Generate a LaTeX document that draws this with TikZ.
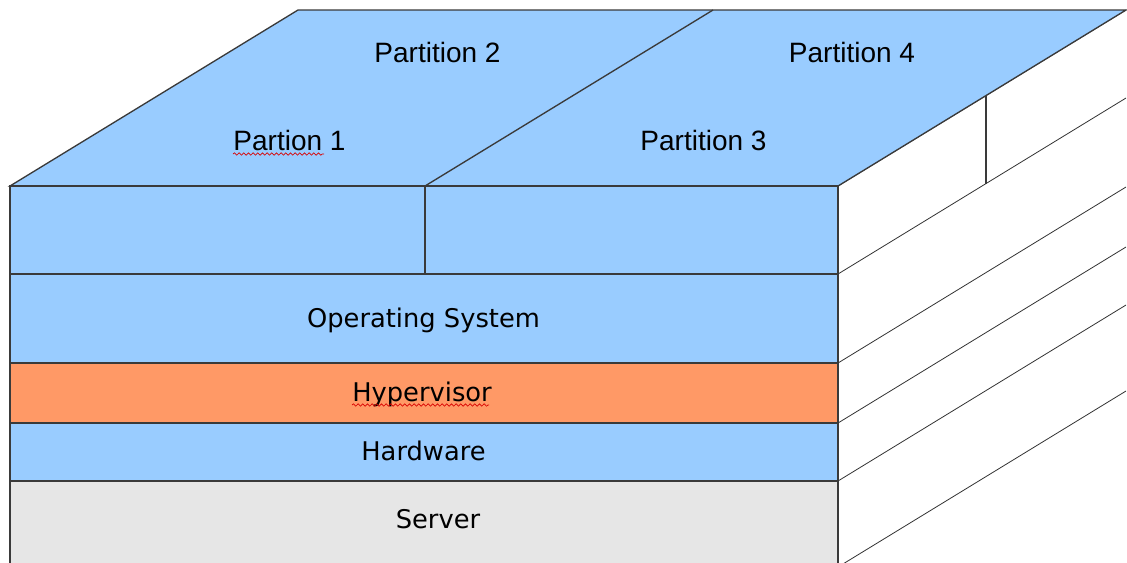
\documentclass[tikz,border=0pt]{standalone}
\usepackage{fontspec}
\setmainfont{DejaVu Sans}
\newfontfamily\partfont{Liberation Sans}
\usetikzlibrary{decorations.pathmorphing}

\definecolor{layerblue}{HTML}{99CCFF}
\definecolor{hyperorange}{HTML}{FF9966}
\definecolor{servergrey}{HTML}{E6E6E6}
\definecolor{edgegrey}{HTML}{3A3A3A}

\tikzset{
    frontline/.style={draw=edgegrey, line width=1pt},
    sideline/.style={draw=black!80, line width=0.6pt},
    layerlabel/.style={anchor=base, inner sep=0pt, font=\fontsize{19.3}{22}\selectfont},
    partlabel/.style={anchor=base, inner sep=0pt, font=\partfont\fontsize{21}{24}\selectfont},
    spellmark/.style={draw=red!85!black, line width=0.5pt,
        decorate, decoration={snake, amplitude=0.9pt, segment length=3.5pt}}
}

\begin{document}
\begin{tikzpicture}[x=0.75pt, y=-0.75pt]
    \useasboundingbox (0,0) rectangle (1127,562);
    \clip (0,0) rectangle (1127,562);

    % right side of the box
    \foreach \y in {186,274,363,423,481,567}{
        \draw[sideline] (838,\y) -- ++(288,-176);}
    \draw[frontline] (986,96) -- (986,184);

    % top face with the four partitions
    \filldraw[fill=layerblue, frontline] (10,186) -- (298,10) -- (1126,10) -- (838,186) -- cycle;
    \draw[frontline] (425,186) -- (713,10);

    % front face, one band per layer
    \filldraw[fill=layerblue, frontline] (10,186) rectangle (838,274);
    \draw[frontline] (425,186) -- (425,274);
    \filldraw[fill=layerblue, frontline] (10,274) rectangle (838,363);
    \filldraw[fill=hyperorange, frontline] (10,363) rectangle (838,423);
    \filldraw[fill=layerblue, frontline] (10,423) rectangle (838,481);
    \filldraw[fill=servergrey, frontline] (10,481) rectangle (838,567);

    \node[partlabel] (part2) at (437.5,62) {Partition 2};
    \node[partlabel] (part4) at (852,62) {Partition 4};
    \node[partlabel] (part1) at (289.5,150) {Partion 1};
    \node[partlabel] (part3) at (703.5,150) {Partition 3};

    \node[layerlabel] (os) at (423.5,327) {Operating System};
    \node[layerlabel] (hyper) at (422,401) {Hypervisor};
    \node[layerlabel] (hw) at (423.5,460) {Hardware};
    \node[layerlabel] (server) at (438,528) {Server};

    % spell checker marks
    \draw[spellmark] (233,154) -- (324,154);
    \draw[spellmark] (352,405) -- (489,405);

\end{tikzpicture}
\end{document}
